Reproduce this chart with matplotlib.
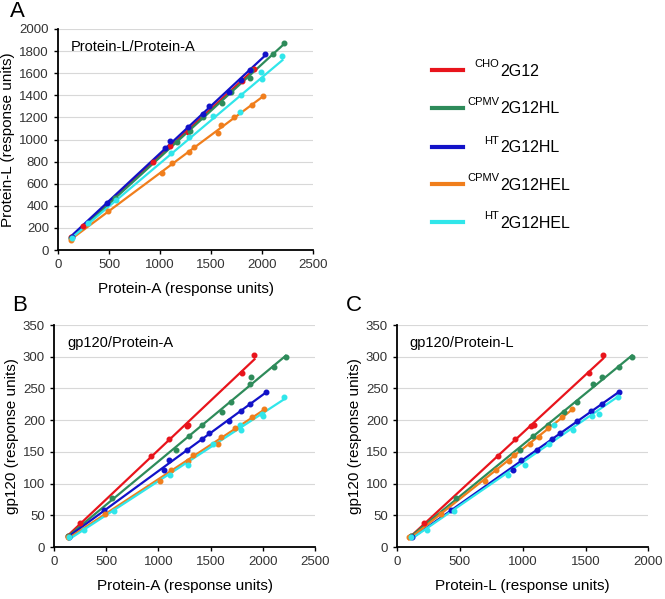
import numpy as np
import matplotlib.pyplot as plt
from matplotlib.lines import Line2D

plt.rcParams['font.family'] = ['Liberation Sans', 'DejaVu Sans']

# per series: Protein-A, Protein-L and gp120 binding (response units)
names = ['CHO', 'CPMV', 'HT', 'CPMV', 'HT']
mains = ['2G12', '2G12HL', '2G12HL', '2G12HEL', '2G12HEL']
colors = ['#e8141c', '#2e8b5a', '#1212c8', '#f07e1c', '#30e6ea']

red_A = [130, 250, 930, 1100, 1270, 1280, 1800, 1920]
red_L = [115, 215, 800, 940, 1070, 1090, 1530, 1640]
red_gp = [18, 38, 143, 170, 190, 193, 275, 302]

green_A = [130, 560, 1170, 1290, 1420, 1610, 1700, 1880, 1890, 2110, 2220]
green_L = [110, 470, 980, 1080, 1200, 1330, 1430, 1560, 1630, 1770, 1870]
green_gp = [17, 77, 153, 175, 192, 213, 229, 257, 268, 284, 300]

blue_A = [140, 480, 1050, 1100, 1270, 1420, 1480, 1680, 1790, 1880, 2030]
blue_L = [120, 430, 920, 990, 1110, 1230, 1300, 1430, 1540, 1630, 1770]
blue_gp = [15, 58, 122, 137, 153, 170, 180, 198, 215, 225, 244]

orange_A = [130, 490, 1020, 1120, 1280, 1330, 1570, 1600, 1730, 1900, 2010]
orange_L = [95, 350, 700, 790, 890, 930, 1060, 1130, 1200, 1310, 1390]
orange_gp = [15, 52, 104, 122, 135, 145, 163, 174, 187, 205, 218]

cyan_A = [140, 290, 570, 1110, 1280, 1520, 1780, 1790, 1990, 2000, 2200]
cyan_L = [110, 240, 450, 880, 1020, 1210, 1250, 1400, 1610, 1550, 1760]
cyan_gp = [15, 27, 57, 114, 130, 162, 192, 185, 210, 207, 237]

protA = [red_A, green_A, blue_A, orange_A, cyan_A]
protL = [red_L, green_L, blue_L, orange_L, cyan_L]
gp120 = [red_gp, green_gp, blue_gp, orange_gp, cyan_gp]

fig = plt.figure(figsize=(6.65, 5.99), dpi=100)
axA = fig.add_axes([0.0872, 0.5826, 0.3835, 0.369])
axB = fig.add_axes([0.0812, 0.0868, 0.3925, 0.3706])
axC = fig.add_axes([0.597, 0.0868, 0.378, 0.3706])


def panel(ax, xs, ys, xmax, ymax, xstep, ystep, title, xlabel, ylabel):
    for x, y, c in zip(xs, ys, colors):
        x = np.array(x, float)
        y = np.array(y, float)
        k, b = np.polyfit(x, y, 1)
        xx = np.array([x.min(), x.max()])
        ax.plot(xx, k * xx + b, color=c, lw=1.6, zorder=3)
        ax.plot(x, y, 'o', color=c, ms=3.3, zorder=4)
    ax.set_xlim(0, xmax)
    ax.set_ylim(0, ymax)
    ax.set_xticks(np.arange(0, xmax + 1, xstep))
    ax.set_yticks(np.arange(0, ymax + 1, ystep))
    ax.grid(axis='y', color='#d8d8d8', lw=0.8)
    ax.set_axisbelow(True)
    for s in ['top', 'right']:
        ax.spines[s].set_visible(False)
    for s in ['left', 'bottom']:
        ax.spines[s].set_linewidth(1.3)
    ax.tick_params(labelsize=9.5, labelcolor='#333333', length=3, width=1)
    ax.set_xlabel(xlabel, fontsize=11, labelpad=8)
    ax.set_ylabel(ylabel, fontsize=11, labelpad=3)
    ax.text(0.05, 0.95, title, transform=ax.transAxes, fontsize=10.5,
            va='top', ha='left')


panel(axA, protA, protL, 2500, 2000, 500, 200, 'Protein-L/Protein-A',
      'Protein-A (response units)', 'Protein-L (response units)')
panel(axB, protA, gp120, 2500, 350, 500, 50, 'gp120/Protein-A',
      'Protein-A (response units)', 'gp120 (response units)')
panel(axC, protL, gp120, 2000, 350, 500, 50, 'gp120/Protein-L',
      'Protein-L (response units)', 'gp120 (response units)')

fig.text(0.015, 0.999, 'A', fontsize=16, va='top')
fig.text(0.018, 0.49, 'B', fontsize=16, va='center')
fig.text(0.52, 0.49, 'C', fontsize=16, va='center')

# legend
rows = [70, 108, 147, 184, 222]
for r, sup, main, c in zip(rows, names, mains, colors):
    yf = 1 - r / 599
    fig.add_artist(Line2D([432 / 665, 463 / 665], [yf, yf], color=c, lw=3))
    fig.text(499 / 665, yf + 6 / 599, sup, fontsize=8, ha='right', va='center')
    fig.text(500 / 665, yf - 1 / 599, main, fontsize=11.5, ha='left', va='center')

fig.savefig('out.png', dpi=100)
